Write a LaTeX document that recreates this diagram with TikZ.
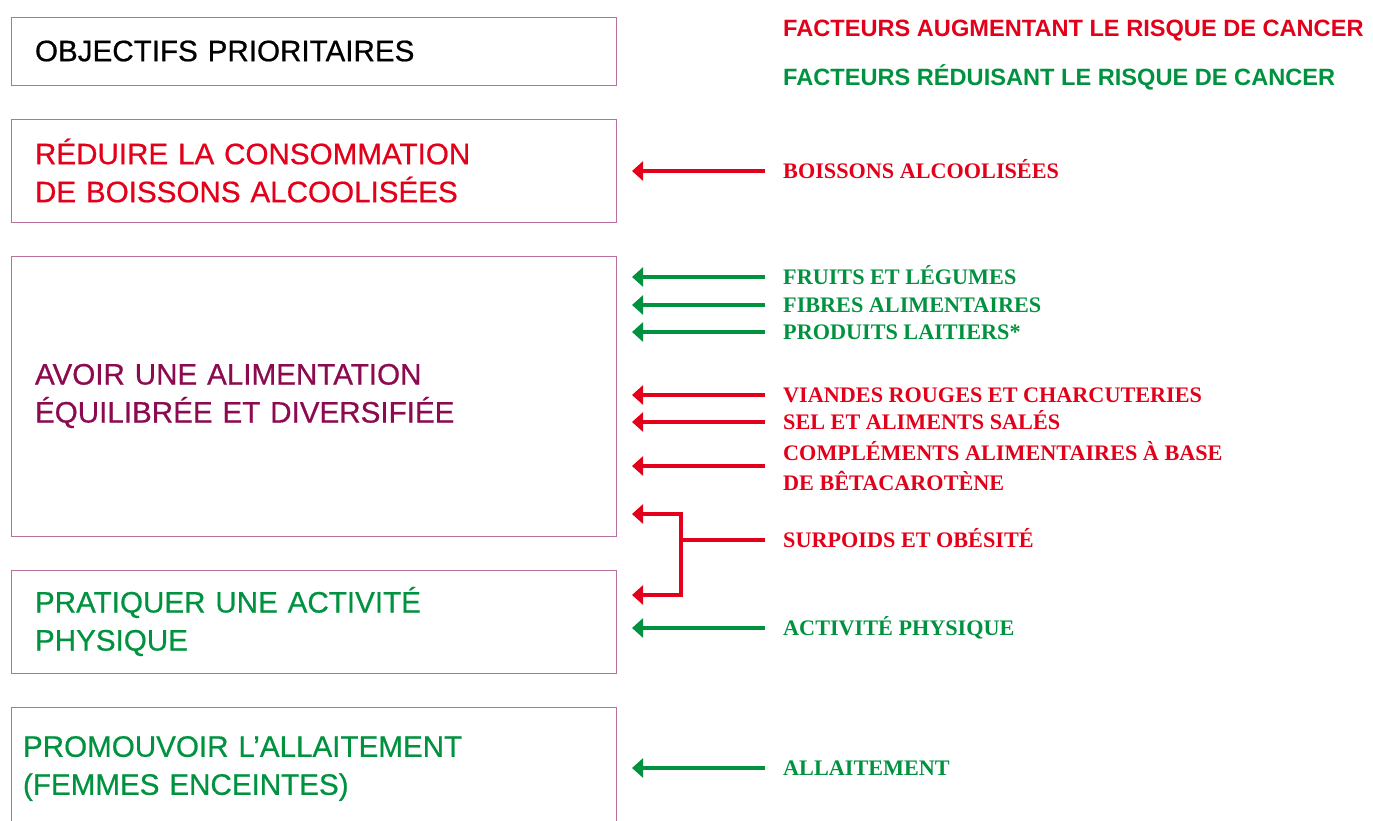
\documentclass[tikz,border=0pt]{standalone}
\usepackage{fontspec}
\setmainfont{Liberation Serif}
\setsansfont{Liberation Sans}
\newfontfamily\cadrefont[FakeBold=0.6]{Liberation Sans}
\usetikzlibrary{positioning,arrows.meta}
\definecolor{rouge}{HTML}{E2001A}
\definecolor{vert}{HTML}{00923F}
\definecolor{prune}{HTML}{8C0A50}
\definecolor{cadre}{HTML}{B8709F}

\begin{document}
\begin{tikzpicture}[x=1pt, y=-1pt, node distance=34pt,
	objbox/.style={rectangle, draw=cadre, line width=1pt, outer sep=0pt, text width=557pt, inner xsep=24pt, inner ysep=0pt, align=left, font=\cadrefont\fontsize{29.6}{38}\selectfont},
	titre/.style={anchor=west, inner sep=0pt, text height=17pt, text depth=0pt, font=\sffamily\bfseries\fontsize{23.6}{28}\selectfont},
	fact/.style={anchor=west, inner xsep=18pt, inner ysep=0pt, align=left, font=\rmfamily\bfseries\fontsize{22.2}{30}\selectfont},
	fact1/.style={fact, text height=15pt, text depth=0pt},
	fleche/.style={line width=3.2pt, -{Triangle[length=11pt,width=19pt]}}]
	\useasboundingbox (0,0) rectangle (1373,820);
	\clip (0,0) rectangle (1373,820);
	% objectifs
	\node[objbox, minimum height=68pt, anchor=north west] (objectifs) at (11,17) {OBJECTIFS PRIORITAIRES};
	\node[objbox, text=rouge, minimum height=103pt] (alcool) [below = of objectifs] {RÉDUIRE LA CONSOMMATION\\DE BOISSONS ALCOOLISÉES};
	\node[objbox, text=prune, minimum height=280pt] (alim) [below = of alcool] {AVOIR UNE ALIMENTATION\\ÉQUILIBRÉE ET DIVERSIFIÉE};
	\node[objbox, text=vert, minimum height=103pt] (sport) [below = of alim] {PRATIQUER UNE ACTIVITÉ\\PHYSIQUE};
	\node[objbox, text=vert, minimum height=123pt, inner xsep=12pt, text width=581pt] (allait) [below = of sport] {PROMOUVOIR L’ALLAITEMENT\\(FEMMES ENCEINTES)};
	% facteurs
	\node[titre, text=rouge] (augmente) at (783,28) {FACTEURS AUGMENTANT LE RISQUE DE CANCER};
	\node[titre, text=vert] (reduit) at (783,77) {FACTEURS RÉDUISANT LE RISQUE DE CANCER};
	\node[fact1, text=rouge] (boissons) at (765,171) {BOISSONS ALCOOLISÉES};
	\node[fact1, text=vert] (fruits) at (765,277) {FRUITS ET LÉGUMES};
	\node[fact1, text=vert] (fibres) at (765,305) {FIBRES ALIMENTAIRES};
	\node[fact1, text=vert] (laitiers) at (765,332) {PRODUITS LAITIERS*};
	\node[fact1, text=rouge] (viandes) at (765,395) {VIANDES ROUGES ET CHARCUTERIES};
	\node[fact1, text=rouge] (sel) at (765,422) {SEL ET ALIMENTS SALÉS};
	\node[fact, text=rouge] (complements) at (765,466) {COMPLÉMENTS ALIMENTAIRES À BASE\\DE BÊTACAROTÈNE};
	\node[fact1, text=rouge] (surpoids) at (765,540) {SURPOIDS ET OBÉSITÉ};
	\node[fact1, text=vert] (activite) at (765,628) {ACTIVITÉ PHYSIQUE};
	\node[fact1, text=vert] (allaitement) at (765,768) {ALLAITEMENT};
	% fleches
	\coordinate (bord) at (632,0);
	\coordinate (fourche) at (681,540);
	\coordinate (haut) at (632,514);
	\coordinate (bas) at (632,595);
	\foreach \f/\c in {boissons/rouge, fruits/vert, fibres/vert, laitiers/vert, viandes/rouge, sel/rouge, complements/rouge, activite/vert, allaitement/vert}
		\draw[fleche, \c] (\f.west) -- (\f.west -| bord);
	\draw[rouge, line width=3.2pt] (surpoids.west) -- (fourche);
	\draw[fleche, rouge] (fourche) |- (haut);
	\draw[fleche, rouge] (fourche) |- (bas);
\end{tikzpicture}
\end{document}
